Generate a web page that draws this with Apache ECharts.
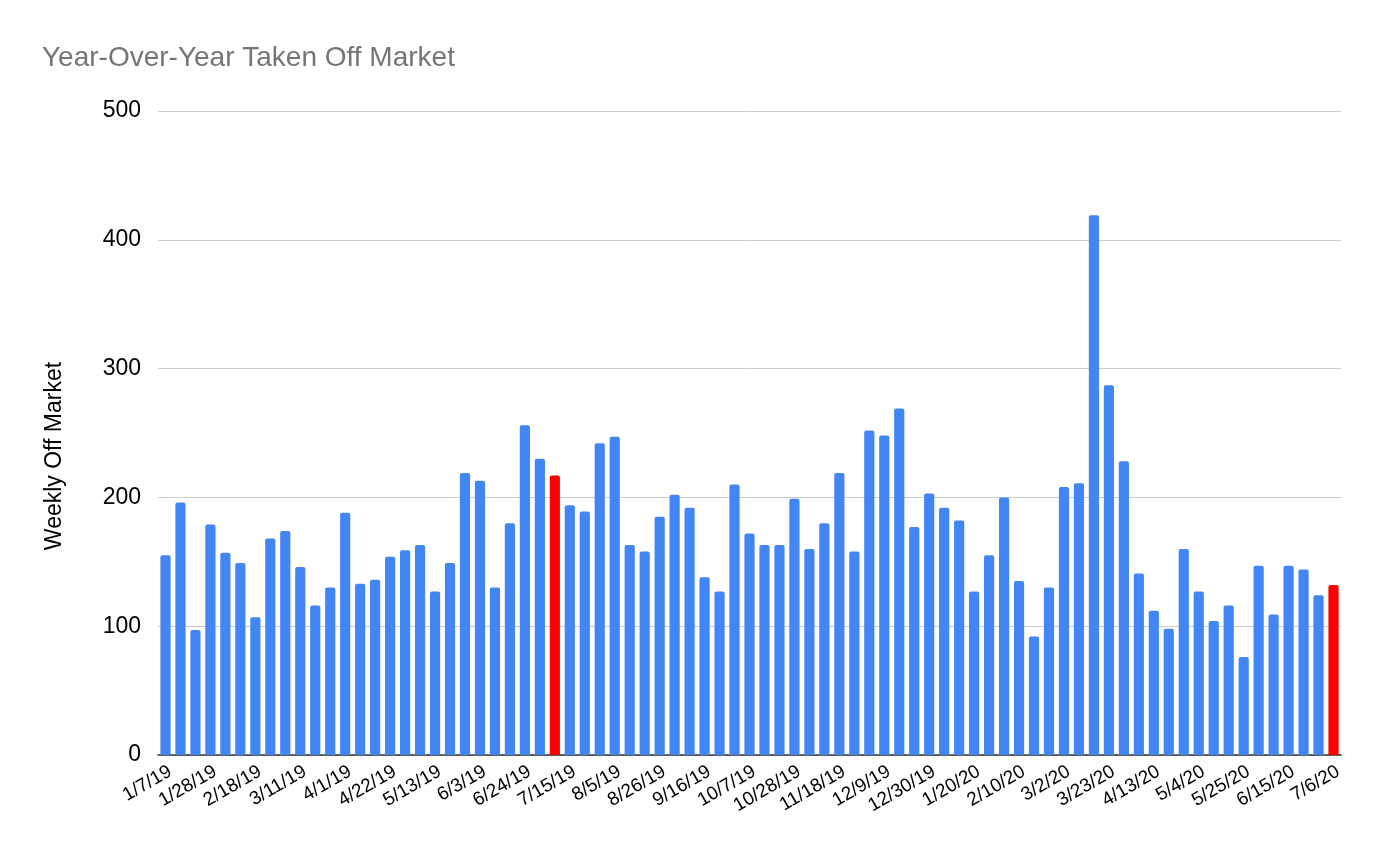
<!DOCTYPE html>
<html>
<head>
<meta charset="utf-8">
<script src="https://cdn.jsdelivr.net/npm/echarts@6/dist/echarts.min.js"></script>
<style>
html,body{margin:0;padding:0;background:#fff;}
#chart{width:1384px;height:856px;}
</style>
</head>
<body>
<div id="chart"></div>
<script>
const startDate = new Date(2019, 0, 7);
const weeklyOffMarket = [
  155, 196, 97, 179, 157, 149, 107, 168, 174, 146,
  116, 130, 188, 133, 136, 154, 159, 163, 127, 149,
  219, 213, 130, 180, 256, 230, 217, 194, 189, 242,
  247, 163, 158, 185, 202, 192, 138, 127, 210, 172,
  163, 163, 199, 160, 180, 219, 158, 252, 248, 269,
  177, 203, 192, 182, 127, 155, 200, 135, 92, 130,
  208, 211, 419, 287, 228, 141, 112, 98, 160, 127,
  104, 116, 76, 147, 109, 147, 144, 124, 132
];
const highlightIndices = [26, 78];

const categories = weeklyOffMarket.map((_, i) => {
  const d = new Date(startDate.getTime());
  d.setDate(d.getDate() + 7 * i);
  return (d.getMonth() + 1) + '/' + d.getDate() + '/' + String(d.getFullYear()).slice(2);
});

const FONT = 'Liberation Sans, Arial, sans-serif';
const chart = echarts.init(document.getElementById('chart'));
chart.setOption({
  animation: false,
  backgroundColor: '#fff',
  title: {
    text: 'Year-Over-Year Taken Off Market',
    left: 37, top: 39,
    textStyle: { color: '#757575', fontSize: 28, fontWeight: 'normal', fontFamily: FONT }
  },
  graphic: [{
    type: 'text',
    x: 55, y: 456,
    rotation: Math.PI / 2,
    style: {
      text: 'Weekly Off Market',
      fill: '#000',
      font: '23px ' + FONT,
      textAlign: 'center',
      textVerticalAlign: 'middle'
    }
  }],
  grid: { left: 158, right: 43, top: 111, bottom: 101, containLabel: false },
  xAxis: {
    type: 'category',
    data: categories,
    axisLine: { lineStyle: { color: '#333', width: 1.5 } },
    axisTick: { show: false },
    axisLabel: {
      interval: 2, rotate: 30, color: '#000', fontSize: 19, margin: 7,
      verticalAlign: 'top',
      fontFamily: FONT
    }
  },
  yAxis: {
    type: 'value', min: 0, max: 500, interval: 100,
    axisLine: { show: false }, axisTick: { show: false },
    axisLabel: { color: '#000', fontSize: 23, margin: 17, fontFamily: FONT },
    splitLine: { lineStyle: { color: '#cccccc', width: 1 } }
  },
  series: [{
    type: 'bar',
    barCategoryGap: '32%',
    data: weeklyOffMarket.map((v, i) => ({
      value: v,
      itemStyle: {
        color: highlightIndices.includes(i) ? '#ff0000' : '#4285f4',
        borderRadius: [2, 2, 0, 0]
      }
    }))
  }]
});
</script>
</body>
</html>
